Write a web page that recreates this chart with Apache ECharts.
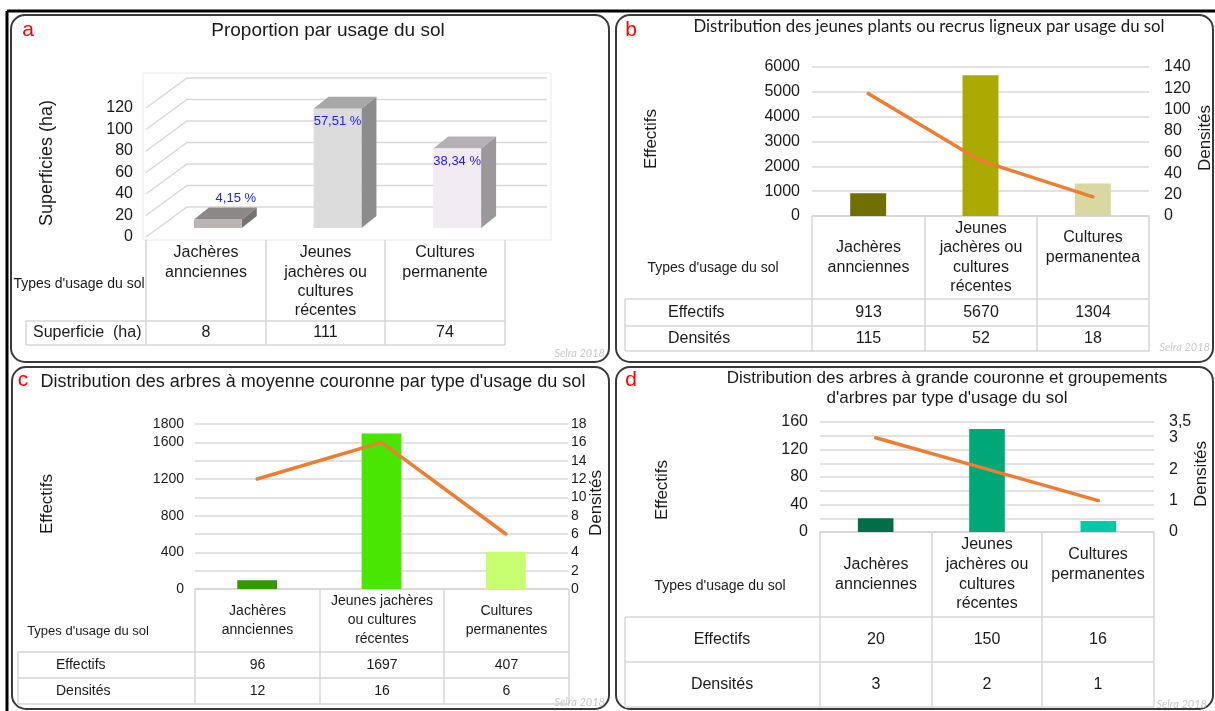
<!DOCTYPE html>
<html>
<head>
<meta charset="utf-8">
<title>Usage du sol</title>
<script src="https://cdn.jsdelivr.net/npm/echarts@6/dist/echarts.min.js"></script>
<style>
  html, body { margin: 0; padding: 0; background: #fff; }
  #main { width: 1215px; height: 711px; }
</style>
</head>
<body>
<div id="main"></div>
<script>
// a - superficies
const catsA = ['Jachères\nannciennes', 'Jeunes\njachères ou\ncultures\nrécentes', 'Cultures\npermanente'];
const superficie = [8, 111, 74];
const partsA = [4.15, 57.51, 38.34];
const ticksA = [0, 20, 40, 60, 80, 100, 120];

// b - jeunes plants
const catsB = ['Jachères\nannciennes', 'Jeunes\njachères ou\ncultures\nrécentes', 'Cultures\npermanentea'];
const effectifsB = [913, 5670, 1304];
const densitesB = [115, 52, 18];

// c - moyenne couronne
const catsC = ['Jachères\nannciennes', 'Jeunes jachères\nou cultures\nrécentes', 'Cultures\npermanentes'];
const effectifsC = [96, 1697, 407];
const densitesC = [12, 16, 6];

// d - grande couronne
const catsD = ['Jachères\nannciennes', 'Jeunes\njachères ou\ncultures\nrécentes', 'Cultures\npermanentes'];
const effectifsD = [20, 150, 16];
const densitesD = [3, 2, 1];
const ticksDensD = [0, 1, 2, 3, 3.5];

const coulB = ['#707000', '#aaaa00', '#d8d8a0'];
const coulC = ['#339900', '#48e600', '#c8ff70'];
const coulD = ['#006f46', '#00a878', '#00c9a7'];
const facesA = [
  { front: '#bcb4b4', top: '#8d8888', side: '#777272' },
  { front: '#dcdcdc', top: '#a8a8a8', side: '#8c8c8c' },
  { front: '#f3ebf3', top: '#b4b0b3', side: '#9b979a' }
];
const ORANGE = '#ed7d31';

const FONT = '"Liberation Sans", Arial, sans-serif';
const NARROW = '"Liberation Sans Narrow", "Liberation Sans", Arial, sans-serif';
const font = (size, fam, extra) => (extra ? extra + ' ' : '') + size + 'px ' + (fam || FONT);

function txt(x, y, text, size, opt) {
  opt = opt || {};
  const al = opt.align || 'center', va = opt.valign || 'middle';
  return {
    type: 'text', x: x, y: y, rotation: opt.rot || 0, silent: true, z: 10,
    style: {
      text: text, font: font(size, opt.fam, opt.extra), fill: opt.color || '#1a1a1a',
      align: al, verticalAlign: va, textAlign: al, textVerticalAlign: va,
      lineHeight: opt.lh
    }
  };
}

function tableGraphics(t, cats, rows) {
  const els = [];
  const last = t.rows[t.rows.length - 1];
  const right = t.cols[t.cols.length - 1];
  const line = (x1, y1, x2, y2) => els.push({
    type: 'line', silent: true, z: 5,
    shape: { x1: x1, y1: y1, x2: x2, y2: y2 },
    style: { stroke: '#d6d6d6', lineWidth: 1.5 }
  });
  t.cols.forEach(x => line(x, t.top, x, last));
  line(t.left, t.head, right, t.head);
  t.rows.forEach(y => line(t.left, y, right, y));
  line(t.left, t.head, t.left, last);

  cats.forEach((c, i) => {
    const cx = (t.cols[i] + t.cols[i + 1]) / 2;
    if (t.catTop) {
      els.push(txt(cx, t.catTop - t.lh / 2, c, t.catFont, { valign: 'top', lh: t.lh }));
    } else {
      els.push(txt(cx, (t.top + t.head) / 2 + (t.shift ? t.shift[i] : 0), c, t.catFont, { lh: t.lh }));
    }
  });
  els.push(txt(t.typeX, t.typeY, "Types d'usage du sol", t.typeFont));

  let prev = t.head;
  rows.forEach((r, k) => {
    const cy = (prev + t.rows[k]) / 2;
    els.push(txt(t.labelX, cy, r.label, t.rowFont, { align: t.labelAlign }));
    r.values.forEach((v, i) => {
      els.push(txt((t.cols[i] + t.cols[i + 1]) / 2, cy, String(v), t.rowFont));
    });
    prev = t.rows[k];
  });
  return els;
}

function renderWall(params, api) {
  const v = api.value(1);
  const band = api.size([1, 0])[0];
  const p = api.coord([0, v]);
  const left = p[0] - band / 2;
  const right = api.coord([catsA.length - 1, v])[0] + band / 2;
  return {
    type: 'polyline', silent: true,
    shape: { points: [[left, p[1]], [left + 41, p[1] - 30], [right + 42, p[1] - 30]] },
    style: { stroke: '#d9d9d9', lineWidth: 1.5, fill: null }
  };
}

function renderBar3d(params, api) {
  const i = api.value(0);
  const v = api.value(1);
  const band = api.size([1, 0])[0];
  const base = api.coord([i, 0]);
  const top = api.coord([i, v]);
  const w = band * 0.4;
  const cx = base[0] + 12;
  const l = cx - w / 2, r = cx + w / 2;
  const yb = base[1] - 9, yt = top[1] - 9;
  const dx = 15, dy = 12;
  const fc = facesA[i];
  const pct = partsA[i].toFixed(2).replace('.', ',') + ' %';
  const inside = yb - yt > 40;
  return {
    type: 'group',
    children: [
      { type: 'polygon', shape: { points: [[r, yt], [r + dx, yt - dy], [r + dx, yb - dy], [r, yb]] }, style: { fill: fc.side } },
      { type: 'polygon', shape: { points: [[l, yt], [r, yt], [r + dx, yt - dy], [l + dx, yt - dy]] }, style: { fill: fc.top } },
      { type: 'rect', shape: { x: l, y: yt, width: w, height: yb - yt }, style: { fill: fc.front } },
      {
        type: 'text', x: inside ? cx : cx + 18, y: inside ? yt + 13 : yt - dy - 9,
        style: { text: pct, font: font(13, NARROW), fill: '#2020f0', align: 'center', verticalAlign: 'middle' }
      }
    ]
  };
}

const chart = echarts.init(document.getElementById('main'));

const gridBase = { outerBoundsMode: 'none', containLabel: false };
const plain = v => String(v);
const comma = v => String(v).replace('.', ',');
const split = { show: true, lineStyle: { color: '#d9d9d9', width: 1.5 } };
const catAxis = (data, gi, showLine) => ({
  type: 'category', gridIndex: gi, data: data,
  axisLabel: { show: false }, axisTick: { show: false },
  axisLine: { show: showLine, lineStyle: { color: '#d6d6d6', width: 1.5 } }
});
const valAxis = (gi, pos, min, max, interval, size, margin, showSplit, extra) => ({
  type: 'value', gridIndex: gi, position: pos, min: min, max: max, interval: interval,
  axisLine: { show: false }, axisTick: { show: false },
  splitLine: showSplit ? split : { show: false },
  axisLabel: Object.assign({
    fontSize: size, fontFamily: FONT, color: '#1a1a1a', margin: margin,
    formatter: plain, showMaxLabel: true, showMinLabel: true
  }, extra || {})
});

const barSeries = (xi, yi, values, colors) => ({
  type: 'bar', xAxisIndex: xi, yAxisIndex: yi, barWidth: '32%',
  data: values.map((v, i) => ({ value: v, itemStyle: { color: colors[i] } }))
});
const lineSeries = (xi, yi, values) => ({
  type: 'line', xAxisIndex: xi, yAxisIndex: yi, data: values,
  symbol: 'none', lineStyle: { color: ORANGE, width: 3.5, cap: 'round', join: 'round' }, z: 3
});

const tabA = { cols: [146, 266, 385, 505], top: 240, head: 321, rows: [345], left: 26, catTop: 253, lh: 19.3,
  catFont: 16, typeX: 79, typeY: 284, typeFont: 14, labelX: 33, labelAlign: 'left', rowFont: 16 };
const tabB = { cols: [812, 925, 1037, 1149], top: 216, head: 299, rows: [326, 351], left: 625, lh: 19.5,
  catFont: 16, typeX: 713, typeY: 268, typeFont: 14, labelX: 668, labelAlign: 'left', rowFont: 16, shift: [0, 0, -10] };
const tabC = { cols: [195, 320, 444, 569], top: 589, head: 652, rows: [678, 704], left: 18, lh: 19,
  catFont: 14, typeX: 88, typeY: 631, typeFont: 13, labelX: 56, labelAlign: 'left', rowFont: 14 };
const tabD = { cols: [820, 932, 1042, 1154], top: 532, head: 617, rows: [662, 707], left: 625, lh: 19.7,
  catFont: 16, typeX: 720, typeY: 586, typeFont: 14, labelX: 722, labelAlign: 'center', rowFont: 16, shift: [0, 0, -10] };

const panel = (x, y, w, h) => ({
  type: 'rect', silent: true, z: 1,
  shape: { x: x, y: y, width: w, height: h, r: 14 },
  style: { fill: null, stroke: '#3a3a3a', lineWidth: 2 }
});
const ROT = Math.PI / 2;
const mark = { align: 'right', color: '#c8c8c8', extra: 'italic', fam: 'Lato, sans-serif' };

const graphics = [
  { type: 'line', silent: true, shape: { x1: 7, y1: 11, x2: 1215, y2: 11 }, style: { stroke: '#000', lineWidth: 3 } },
  { type: 'line', silent: true, shape: { x1: 7, y1: 11, x2: 7, y2: 711 }, style: { stroke: '#000', lineWidth: 3 } },
  panel(11, 15, 598, 347), panel(616, 15, 597, 347), panel(12, 367, 597, 342), panel(616, 367, 597, 342),
  // zone du graphique 3D
  { type: 'rect', silent: true, z: 0, shape: { x: 143, y: 73, width: 408, height: 167 }, style: { fill: null, stroke: '#ececec', lineWidth: 1 } },

  txt(28, 30, 'a', 21, { color: '#ff0000' }),
  txt(631, 30, 'b', 21, { color: '#ff0000' }),
  txt(23, 380, 'c', 21, { color: '#ff0000' }),
  txt(631, 380, 'd', 21, { color: '#ff0000' }),

  txt(328, 31, 'Proportion par usage du sol', 19),
  txt(929, 27, 'Distribution des jeunes plants ou recrus ligneux par usage du sol', 16.8, { fam: 'Lato, "Liberation Sans", sans-serif' }),
  txt(313, 382, "Distribution des arbres à moyenne couronne par type d'usage du sol", 18),
  txt(947, 388, "Distribution des arbres à grande couronne et groupements\nd'arbres par type d'usage du sol", 17, { lh: 20 }),

  txt(47, 163, 'Superficies (ha)', 18, { rot: ROT }),
  txt(651, 139, 'Effectifs', 17, { rot: ROT }),
  txt(1205, 138, 'Densités', 17, { rot: ROT }),
  txt(47, 504, 'Effectifs', 17, { rot: ROT }),
  txt(596, 503, 'Densités', 17, { rot: ROT }),
  txt(662, 490, 'Effectifs', 17, { rot: ROT }),
  txt(1201, 474, 'Densités', 17, { rot: ROT }),

  txt(605, 353, 'Selra 2018', 11, mark),
  txt(1210, 347, 'Selra 2018', 11, mark),
  txt(605, 702, 'Selra 2018', 11, mark),
  txt(1207, 704, 'Selra 2018', 11, mark)
].concat(
  tableGraphics(tabA, catsA, [{ label: 'Superficie  (ha)', values: superficie }]),
  tableGraphics(tabB, catsB, [{ label: 'Effectifs', values: effectifsB }, { label: 'Densités', values: densitesB }]),
  tableGraphics(tabC, catsC, [{ label: 'Effectifs', values: effectifsC }, { label: 'Densités', values: densitesC }]),
  tableGraphics(tabD, catsD, [{ label: 'Effectifs', values: effectifsD }, { label: 'Densités', values: densitesD }])
);

const option = {
  backgroundColor: '#ffffff',
  animation: false,
  grid: [
    Object.assign({ left: 146, top: 108, width: 359, height: 129 }, gridBase),
    Object.assign({ left: 812, top: 67, width: 337, height: 149 }, gridBase),
    Object.assign({ left: 195, top: 424, width: 373, height: 165 }, gridBase),
    Object.assign({ left: 820, top: 422, width: 334, height: 110 }, gridBase)
  ],
  xAxis: [
    catAxis(catsA, 0, false),
    catAxis(catsB, 1, true),
    catAxis(catsC, 2, true),
    catAxis(catsD, 3, true)
  ],
  yAxis: [
    valAxis(0, 'left', 0, 120, 20, 16, 13, false),
    valAxis(1, 'left', 0, 6000, 1000, 16, 12, true),
    valAxis(1, 'right', 0, 140, 20, 16, 15, false),
    valAxis(2, 'left', 0, 1800, 400, 14, 11, false),
    valAxis(2, 'right', 0, 18, 2, 14, 3, true),
    valAxis(3, 'left', 0, 160, 20, 16, 12, true, { formatter: v => (v % 40 === 0 ? String(v) : '') }),
    // densités d : graduations entières, puis le maximum 3,5 sur un axe superposé
    valAxis(3, 'right', 0, 3.5, 1, 16, 15, false, {
      customValues: ticksDensD.filter(v => v % 1 === 0), formatter: comma
    }),
    valAxis(3, 'right', 0, 3.5, 1, 16, 15, false, {
      customValues: ticksDensD.filter(v => v % 1 !== 0), formatter: comma
    })
  ],
  series: [
    { type: 'custom', xAxisIndex: 0, yAxisIndex: 0, renderItem: renderWall, data: ticksA.map(v => [0, v]), z: 1, silent: true },
    { type: 'custom', xAxisIndex: 0, yAxisIndex: 0, renderItem: renderBar3d, data: superficie.map((v, i) => [i, v]), z: 2 },
    barSeries(1, 1, effectifsB, coulB),
    lineSeries(1, 2, densitesB),
    barSeries(2, 3, effectifsC, coulC),
    lineSeries(2, 4, densitesC),
    barSeries(3, 5, effectifsD, coulD),
    lineSeries(3, 6, densitesD)
  ],
  graphic: graphics
};

chart.setOption(option);
window.addEventListener('resize', () => chart.resize());
</script>
</body>
</html>
